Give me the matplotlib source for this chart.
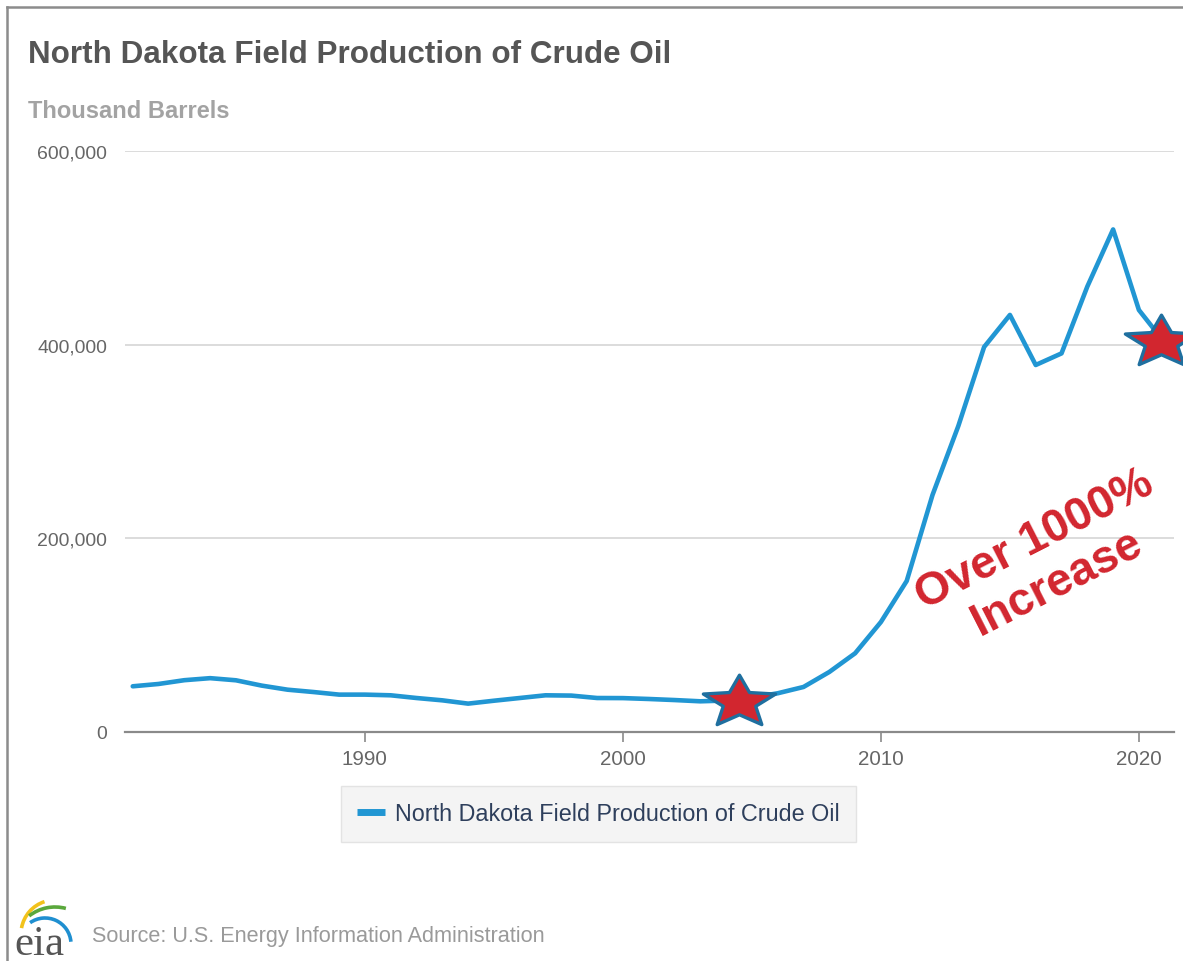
import matplotlib
matplotlib.use('Agg')
import numpy as np
import matplotlib.pyplot as plt
from matplotlib import font_manager as fm
from matplotlib.patches import Arc
from matplotlib.lines import Line2D
from matplotlib.path import Path
from matplotlib.ticker import FuncFormatter, FixedLocator

# ---------------- data ----------------
years = list(range(1981, 2022))
production = [47200, 49600, 53500, 55600, 53400, 47900, 43700, 41300, 38600, 38600,
              37900, 35100, 32700, 29300, 32300, 35100, 37900, 37600, 35100, 35000,
              34100, 33000, 31700, 32500, 35500, 40000, 46500, 62000, 81300, 113600,
              156000, 244800, 316000, 397600, 430700, 379000, 391000, 460000, 519000,
              435800, 402000]
star_years = [2004.5, 2020.85]
star_values = [31000, 403000]
x_ticks = [1990, 2000, 2010, 2020]
y_ticks = [0, 200000, 400000, 600000]

title = "North Dakota Field Production of Crude Oil"
subtitle = "Thousand Barrels"
series_name = "North Dakota Field Production of Crude Oil"
source = "Source: U.S. Energy Information Administration"
annotation = "Over 1000%\nIncrease"

# ---------------- fonts ----------------
def has_font(name):
    try:
        fm.findfont(fm.FontProperties(family=name), fallback_to_default=False)
        return True
    except Exception:
        return False

NARROW = has_font('Liberation Sans Narrow')
if NARROW:
    FAM = ['Liberation Sans Narrow', 'Liberation Sans', 'DejaVu Sans']
    K = 1.0
else:
    FAM = ['Liberation Sans', 'DejaVu Sans']
    K = 0.82

W, H = 1183, 962
fig = plt.figure(figsize=(W / 100, H / 100), dpi=100)
fig.patch.set_facecolor('white')

def fx(px):
    return px / W

def fy(py):
    return 1 - py / H

# flattened five-point star marker (shape only)
ang = np.deg2rad(90 + np.arange(10) * 36)
rad = np.where(np.arange(10) % 2 == 0, 1.0, 0.45)
verts = np.column_stack([rad * np.cos(ang), rad * np.sin(ang) * 0.72])
verts = np.vstack([verts, verts[:1]])
codes = [Path.MOVETO] + [Path.LINETO] * 9 + [Path.CLOSEPOLY]
star_marker = Path(verts, codes)

# ---------------- main axes ----------------
ax = fig.add_axes([fx(125), fy(733), fx(1174) - fx(125), (733 - 152) / H])
ax.set_xlim(1980.70, 2021.36)
ax.set_ylim(0, 600000)

line_color = '#2196d3'
ax.plot(years, production, color=line_color, lw=3.3, solid_joinstyle='round',
        solid_capstyle='round', zorder=3, label=series_name)

ax.plot(star_years, star_values, linestyle='none', marker=star_marker, markersize=52,
        markerfacecolor='#d2262f', markeredgecolor='#1f6f9f', markeredgewidth=2.4,
        zorder=5, clip_on=False)

for s in ['top', 'right', 'left']:
    ax.spines[s].set_visible(False)
ax.spines['bottom'].set_color('#8a8a8a')
ax.spines['bottom'].set_linewidth(1.6)

ax.yaxis.set_major_locator(FixedLocator(y_ticks))
ax.xaxis.set_major_locator(FixedLocator(x_ticks))
ax.yaxis.set_major_formatter(FuncFormatter(lambda v, p: f"{v:,.0f}"))
ax.grid(axis='y', color='#d9d9d9', lw=1.3, zorder=0)
ax.set_axisbelow(True)
ax.tick_params(axis='y', length=0, pad=13, labelcolor='#666666')
ax.tick_params(axis='x', length=7, width=1.2, color='#8a8a8a', pad=5, labelcolor='#666666')
for lab in ax.get_yticklabels():
    lab.set_family(FAM)
    lab.set_fontsize(17 * K)
for lab in ax.get_xticklabels():
    lab.set_family(FAM)
    lab.set_fontsize(18 * K)

# annotation
ax.text(0.878, 0.295, annotation, transform=ax.transAxes, rotation=27,
        ha='center', va='center', multialignment='center', color='#d2262f',
        fontsize=33, fontweight='bold', family=['Liberation Sans', 'DejaVu Sans'],
        linespacing=1.15, rotation_mode='anchor', zorder=4)

# legend
leg = ax.legend(loc='center', bbox_to_anchor=(fx(598.5), fy(815)),
                bbox_transform=fig.transFigure, frameon=True, fancybox=False,
                handlelength=1.2, handletextpad=0.45, borderpad=0.7,
                prop=fm.FontProperties(family=FAM, size=20.5 * K))
leg.get_frame().set_facecolor('#f2f2f2')
leg.get_frame().set_edgecolor('#dedede')
leg.get_frame().set_linewidth(1.0)
for t in leg.get_texts():
    t.set_color('#2e3f5c')
for h in leg.get_lines():
    h.set_linewidth(5)
    h.set_solid_capstyle('butt')

# ---------------- texts ----------------
fig.text(fx(28), fy(55), title, ha='left', va='center', family=FAM,
         fontsize=27.5 * K, fontweight='bold', color='#555555')
fig.text(fx(28), fy(111), subtitle, ha='left', va='center', family=FAM,
         fontsize=20.8 * K, fontweight='bold', color='#a3a3a3')
fig.text(fx(92), fy(937), source, ha='left', va='center', family=FAM,
         fontsize=19 * K, color='#9a9a9a')

# ---------------- decorations (frame + logo) ----------------
ov = fig.add_axes([0, 0, 1, 1], zorder=-1)
ov.set_xlim(0, W)
ov.set_ylim(0, H)
ov.axis('off')
ov.add_line(Line2D([7.5, 7.5], [0, H - 7.5], color='#8c8c8c', lw=1.8))
ov.add_line(Line2D([7.5, W], [H - 7.5, H - 7.5], color='#8c8c8c', lw=1.8))

logo = fig.add_axes([0, 0, 1, 1], zorder=6)
logo.set_xlim(0, W)
logo.set_ylim(0, H)
logo.axis('off')
logo.add_patch(Arc((55, H - 935), 68, 68, theta1=108, theta2=170, color='#f2c21b', lw=2.6))
logo.add_patch(Arc((55, H - 950), 84, 84, theta1=75, theta2=128, color='#5aa83c', lw=2.6))
logo.add_patch(Arc((45, H - 945), 52, 52, theta1=5, theta2=125, color='#1f8fd0', lw=2.6))
logo.text(14, H - 955, "eia", ha='left', va='baseline',
          family=['Liberation Serif', 'DejaVu Serif'], fontsize=31, color='#555555')

fig.savefig('out.png', dpi=100, facecolor='white')
